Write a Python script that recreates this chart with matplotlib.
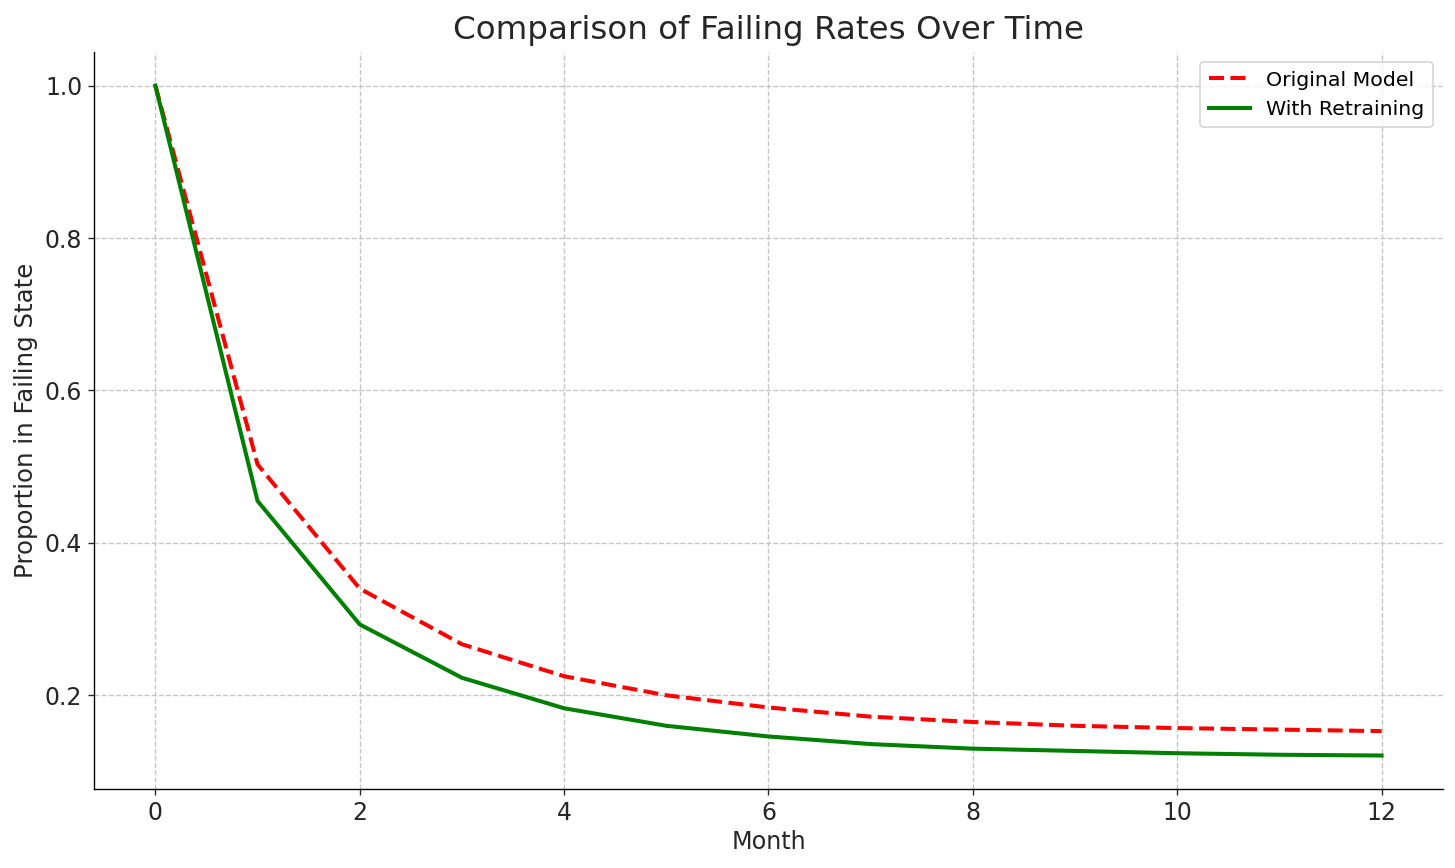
import matplotlib
matplotlib.use("Agg")
import matplotlib.pyplot as plt

months = list(range(13))
original = [1.0, 0.503, 0.340, 0.267, 0.225, 0.200, 0.184, 0.172, 0.165, 0.160, 0.157, 0.155, 0.153]
retraining = [1.0, 0.455, 0.293, 0.223, 0.183, 0.160, 0.146, 0.136, 0.130, 0.127, 0.124, 0.122, 0.121]

fig = plt.figure(figsize=(12, 7.154), dpi=121.333)
ax = fig.add_axes([0.0646, 0.091, 0.9264, 0.849])
ax.plot(months, original, color="red", linestyle="--", linewidth=2.4, label="Original Model")
ax.plot(months, retraining, color="green", linestyle="-", linewidth=2.4, label="With Retraining")
ax.set_title("Comparison of Failing Rates Over Time", fontsize=19.3, color="#262626", pad=8)
ax.set_xlabel("Month", fontsize=14.2, color="#262626", labelpad=3)
ax.set_ylabel("Proportion in Failing State", fontsize=14.5, color="#262626", labelpad=4)
ax.tick_params(labelsize=14, colors="#262626")
ax.set_xticks([0, 2, 4, 6, 8, 10, 12])
ax.set_yticks([0.2, 0.4, 0.6, 0.8, 1.0])
ax.grid(True, linestyle="--", color="#c4c4c4", linewidth=0.8)
ax.spines["top"].set_visible(False)
ax.spines["right"].set_visible(False)
ax.legend(loc="upper right", fontsize=12.2)
fig.savefig("out.png", dpi=121.333)
